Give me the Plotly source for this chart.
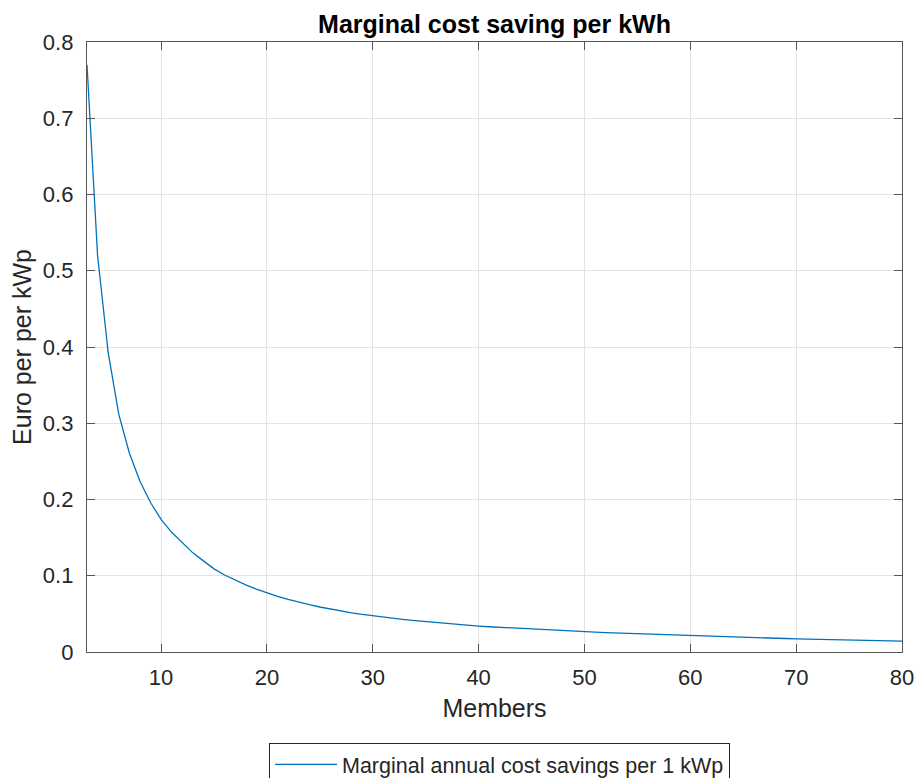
import plotly.graph_objects as go

# Community size (number of members)
members = list(range(3, 81))

# Marginal annual cost savings per 1 kWp of added PV, by community size
savings = [
    0.770, 0.520, 0.393, 0.312, 0.261, 0.224, 0.196, 0.174, 0.157, 0.143,
    0.130, 0.1195, 0.109, 0.101, 0.094, 0.088, 0.0825, 0.0775, 0.0730, 0.0690,
    0.0653, 0.0620, 0.0590, 0.0562, 0.0537, 0.0514, 0.0493, 0.0474, 0.0456, 0.0440,
    0.0425, 0.0411, 0.0398, 0.0386, 0.0374, 0.0363, 0.0352, 0.0340, 0.0331, 0.0323,
    0.0315, 0.0307, 0.0300, 0.0292, 0.0285, 0.0279, 0.0272, 0.0266, 0.0260, 0.0254,
    0.0249, 0.0243, 0.0238, 0.0233, 0.0228, 0.0223, 0.0218, 0.0214, 0.0209, 0.0205,
    0.0201, 0.0197, 0.0193, 0.0189, 0.0185, 0.0181, 0.0177, 0.0173, 0.0170, 0.0167,
    0.0164, 0.0161, 0.0158, 0.0155, 0.0152, 0.0149, 0.0146, 0.0143,
]

x_ticks = [10, 20, 30, 40, 50, 60, 70, 80]
y_ticks = [0, 0.1, 0.2, 0.3, 0.4, 0.5, 0.6, 0.7, 0.8]

FONT = "Liberation Sans, Arial, Helvetica, sans-serif"
AXIS_COLOR = "#555555"
TEXT_COLOR = "#262626"

fig = go.Figure()
fig.add_trace(go.Scatter(
    x=members,
    y=savings,
    mode="lines",
    line=dict(color="#0072BD", width=1.3),
    name="Marginal annual cost savings per 1 kWp",
))

axis_common = dict(
    showline=True,
    linecolor=AXIS_COLOR,
    linewidth=1.3,
    mirror="ticks",
    ticks="inside",
    ticklen=8,
    tickwidth=1.2,
    tickcolor=AXIS_COLOR,
    showgrid=True,
    gridcolor="#e3e3e3",
    gridwidth=1,
    zeroline=False,
    tickfont=dict(family=FONT, size=22, color=TEXT_COLOR),
)

fig.update_xaxes(
    range=[3, 80],
    tickvals=x_ticks,
    ticktext=[str(v) for v in x_ticks],
    title=dict(text="Members", font=dict(family=FONT, size=25, color=TEXT_COLOR), standoff=10),
    ticklabelstandoff=5,
    **axis_common,
)
fig.update_yaxes(
    range=[0, 0.8],
    tickvals=y_ticks,
    ticktext=["0" if v == 0 else f"{v:.1f}" for v in y_ticks],
    title=dict(text="Euro per per kWp", font=dict(family=FONT, size=25, color=TEXT_COLOR), standoff=4),
    ticklabelstandoff=8,
    **axis_common,
)

fig.update_layout(
    width=919,
    height=778,
    margin=dict(l=87, r=17, t=42, b=126, autoexpand=False),
    paper_bgcolor="white",
    plot_bgcolor="white",
    title=dict(
        text="<b>Marginal cost saving per kWh</b>",
        x=(87 + 902) / 2 / 919,
        xanchor="center",
        y=1 - 24 / 778,
        yanchor="middle",
        font=dict(family=FONT, size=25, color="#000000"),
    ),
    showlegend=True,
    legend=dict(
        orientation="h",
        x=(263 + 736) / 2 / 919,
        xref="container",
        xanchor="center",
        y=-0.149,
        yanchor="top",
        bordercolor="#262626",
        borderwidth=1,
        bgcolor="white",
        itemwidth=62,
        font=dict(family=FONT, size=21.5, color=TEXT_COLOR),
    ),
)

fig.write_html("out.html")
